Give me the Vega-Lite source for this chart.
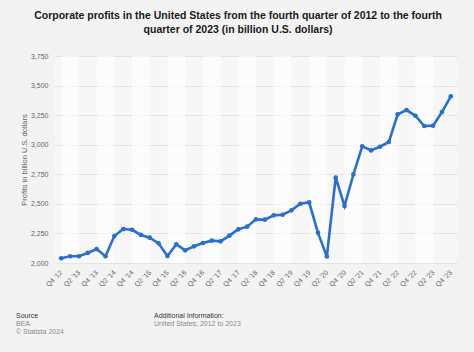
{
  "$schema": "https://vega.github.io/schema/vega-lite/v6.json",
  "background": "#f3f3f3",
  "padding": {"left": 16, "top": 10, "right": 17, "bottom": 17},
  "bounds": "flush",
  "spacing": 49,
  "config": {
    "font": "Liberation Sans",
    "view": {"stroke": null}
  },
  "vconcat": [
    {
      "title": {
        "text": ["Corporate profits in the United States from the fourth quarter of 2012 to the fourth", "quarter of 2023 (in billion U.S. dollars)"],
        "fontSize": 10.5,
        "fontWeight": "bold",
        "color": "#1a1a1a",
        "anchor": "middle",
        "frame": "bounds",
        "offset": 17,
        "lineHeight": 14,
        "dx": -2
      },
      "width": 402,
      "height": 207,
      "view": {"fill": "#f7f7f7", "stroke": null},
      "data": {
        "values": [
          {"quarter": "Q4 '12", "profits": 2040},
          {"quarter": "Q1 '13", "profits": 2057},
          {"quarter": "Q2 '13", "profits": 2057},
          {"quarter": "Q3 '13", "profits": 2085},
          {"quarter": "Q4 '13", "profits": 2118},
          {"quarter": "Q1 '14", "profits": 2057},
          {"quarter": "Q2 '14", "profits": 2228},
          {"quarter": "Q3 '14", "profits": 2287},
          {"quarter": "Q4 '14", "profits": 2281},
          {"quarter": "Q1 '15", "profits": 2237},
          {"quarter": "Q2 '15", "profits": 2214},
          {"quarter": "Q3 '15", "profits": 2166},
          {"quarter": "Q4 '15", "profits": 2059},
          {"quarter": "Q1 '16", "profits": 2158},
          {"quarter": "Q2 '16", "profits": 2107},
          {"quarter": "Q3 '16", "profits": 2141},
          {"quarter": "Q4 '16", "profits": 2169},
          {"quarter": "Q1 '17", "profits": 2189},
          {"quarter": "Q2 '17", "profits": 2183},
          {"quarter": "Q3 '17", "profits": 2231},
          {"quarter": "Q4 '17", "profits": 2285},
          {"quarter": "Q1 '18", "profits": 2307},
          {"quarter": "Q2 '18", "profits": 2369},
          {"quarter": "Q3 '18", "profits": 2366},
          {"quarter": "Q4 '18", "profits": 2403},
          {"quarter": "Q1 '19", "profits": 2408},
          {"quarter": "Q2 '19", "profits": 2445},
          {"quarter": "Q3 '19", "profits": 2501},
          {"quarter": "Q4 '19", "profits": 2513},
          {"quarter": "Q1 '20", "profits": 2255},
          {"quarter": "Q2 '20", "profits": 2056},
          {"quarter": "Q3 '20", "profits": 2721},
          {"quarter": "Q4 '20", "profits": 2482},
          {"quarter": "Q1 '21", "profits": 2749},
          {"quarter": "Q2 '21", "profits": 2986},
          {"quarter": "Q3 '21", "profits": 2952},
          {"quarter": "Q4 '21", "profits": 2983},
          {"quarter": "Q1 '22", "profits": 3023},
          {"quarter": "Q2 '22", "profits": 3257},
          {"quarter": "Q3 '22", "profits": 3293},
          {"quarter": "Q4 '22", "profits": 3245},
          {"quarter": "Q1 '23", "profits": 3158},
          {"quarter": "Q2 '23", "profits": 3161},
          {"quarter": "Q3 '23", "profits": 3276},
          {"quarter": "Q4 '23", "profits": 3409}
        ]
      },
      "encoding": {
        "x": {
          "field": "quarter",
          "type": "ordinal",
          "sort": null,
          "scale": {"type": "point", "padding": 0.7},
          "axis": {
            "title": null,
            "values": ["Q4 '12", "Q2 '13", "Q4 '13", "Q2 '14", "Q4 '14", "Q2 '15", "Q4 '15", "Q2 '16", "Q4 '16", "Q2 '17", "Q4 '17", "Q2 '18", "Q4 '18", "Q2 '19", "Q4 '19", "Q2 '20", "Q4 '20", "Q2 '21", "Q4 '21", "Q2 '22", "Q4 '22", "Q2 '23", "Q4 '23"],
            "labelAngle": -45,
            "labelAlign": "right",
            "labelBaseline": "middle",
            "labelPadding": 8,
            "labelFontSize": 7,
            "labelColor": "#666666",
            "domain": false,
            "ticks": false,
            "tickSize": 0,
            "grid": false
          }
        }
      },
      "layer": [
        {
          "mark": {"type": "bar", "width": 17.7, "color": "#ffffff"},
          "encoding": {
            "opacity": {
              "condition": {"test": "indexof(datum.quarter, 'Q1') == 0", "value": 0.6},
              "value": 0
            }
          }
        },
        {
          "mark": {
            "type": "line",
            "color": "#2a6fd0",
            "strokeWidth": 2.6,
            "point": {"filled": true, "size": 22, "color": "#2a6fd0"}
          },
          "encoding": {
            "y": {
              "field": "profits",
              "type": "quantitative",
              "scale": {"domain": [2000, 3750], "nice": false, "zero": false},
              "axis": {
                "title": "Profits in billion U.S. dollars",
                "titleFontSize": 7.5,
                "titleFontWeight": "normal",
                "titleColor": "#666666",
                "titlePadding": 2,
                "values": [2000, 2250, 2500, 2750, 3000, 3250, 3500, 3750],
                "format": ",d",
                "labelFontSize": 7,
                "labelColor": "#666666",
                "labelPadding": 7,
                "domain": false,
                "ticks": false,
                "tickSize": 0,
                "gridColor": "#e4e4e4",
                "gridWidth": 1
              }
            }
          }
        }
      ]
    },
    {
      "width": 402,
      "height": 24,
      "data": {
        "values": [
          {"group": "Source", "row": 1, "text": "Source"},
          {"group": "Source", "row": 2, "text": "BEA"},
          {"group": "Source", "row": 3, "text": "© Statista 2024"},
          {"group": "Additional Information", "row": 1, "text": "Additional Information:"},
          {"group": "Additional Information", "row": 2, "text": "United States; 2012 to 2023"}
        ]
      },
      "mark": {"type": "text", "align": "left", "baseline": "middle", "fontSize": 7},
      "encoding": {
        "x": {
          "field": "group",
          "type": "nominal",
          "sort": ["Source", "Additional Information"],
          "scale": {"type": "point", "range": [-39, 99], "padding": 0},
          "axis": null
        },
        "y": {
          "field": "row",
          "type": "ordinal",
          "scale": {"type": "point", "padding": 0.5},
          "axis": null
        },
        "text": {"field": "text"},
        "color": {
          "condition": {"test": "datum.row == 1", "value": "#333333"},
          "value": "#8a8a8a"
        }
      }
    }
  ]
}
